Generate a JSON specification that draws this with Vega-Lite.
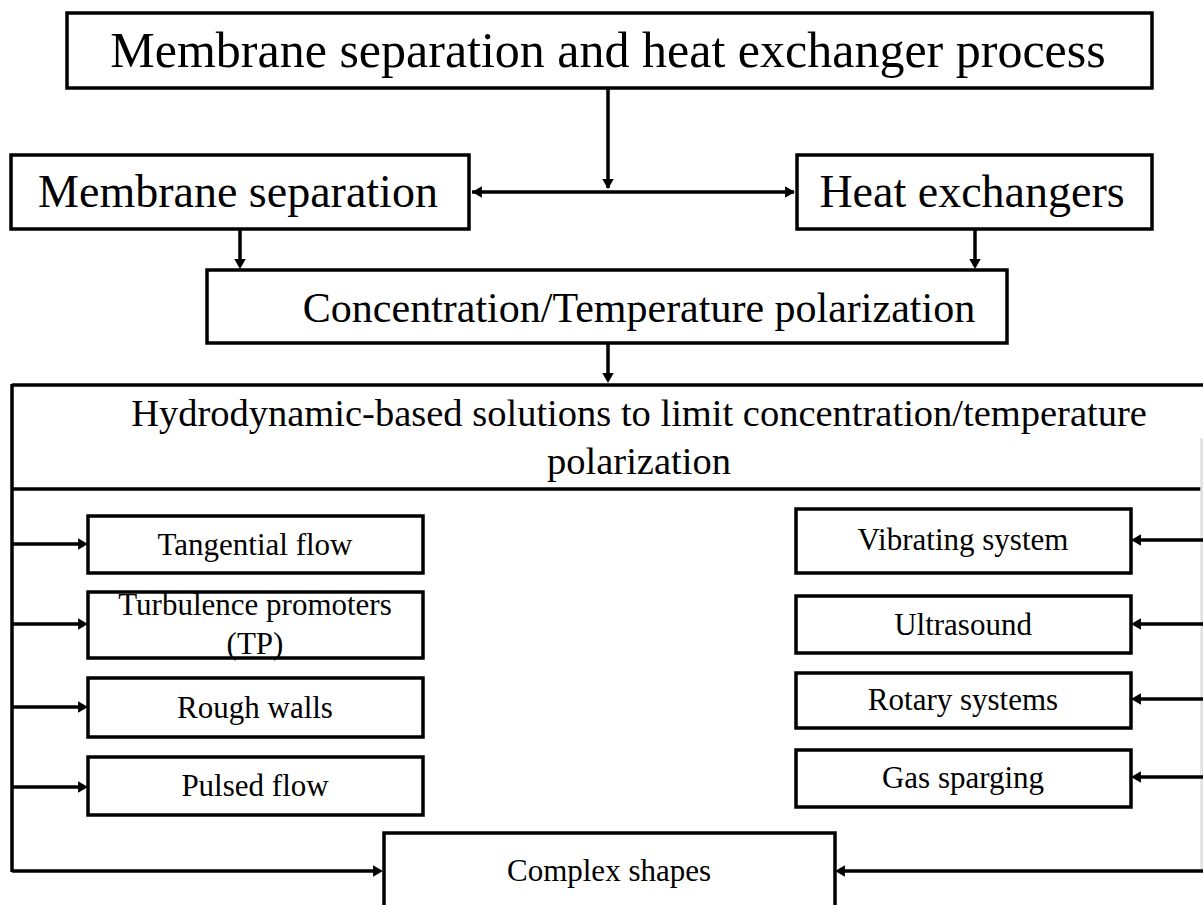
{
  "$schema": "https://vega.github.io/schema/vega-lite/v6.json",
  "width": 1203,
  "height": 905,
  "padding": 0,
  "autosize": {"type": "fit", "contains": "padding"},
  "background": "white",
  "config": {"view": {"stroke": null}},
  "datasets": {
    "boxes": [
      {"name": "process", "x": 67, "y": 13, "x2": 1152, "y2": 88},
      {"name": "membrane", "x": 11, "y": 155, "x2": 469, "y2": 229},
      {"name": "heat", "x": 797, "y": 155, "x2": 1152, "y2": 229},
      {"name": "polarization", "x": 207, "y": 270, "x2": 1007, "y2": 343},
      {"name": "tangential", "x": 88, "y": 516, "x2": 423, "y2": 573},
      {"name": "turbulence", "x": 88, "y": 592, "x2": 423, "y2": 658},
      {"name": "rough", "x": 88, "y": 678, "x2": 423, "y2": 737},
      {"name": "pulsed", "x": 88, "y": 757, "x2": 423, "y2": 815},
      {"name": "vibrating", "x": 796, "y": 509, "x2": 1131, "y2": 573},
      {"name": "ultrasound", "x": 796, "y": 596, "x2": 1131, "y2": 653},
      {"name": "rotary", "x": 796, "y": 673, "x2": 1131, "y2": 728},
      {"name": "gas", "x": 796, "y": 750, "x2": 1131, "y2": 807},
      {"name": "complex", "x": 384, "y": 833, "x2": 835, "y2": 930}
    ],
    "lines": [
      {"kind": "solid", "x": 608, "y": 88, "x2": 608, "y2": 188},
      {"kind": "solid", "x": 472, "y": 192, "x2": 794, "y2": 192},
      {"kind": "solid", "x": 240, "y": 229, "x2": 240, "y2": 266},
      {"kind": "solid", "x": 975, "y": 229, "x2": 975, "y2": 266},
      {"kind": "solid", "x": 608, "y": 343, "x2": 608, "y2": 380},
      {"kind": "solid", "x": 12, "y": 385, "x2": 1203, "y2": 385},
      {"kind": "solid", "x": 12, "y": 489, "x2": 1203, "y2": 489},
      {"kind": "solid", "x": 12, "y": 384, "x2": 12, "y2": 872},
      {"kind": "faint", "x": 1202, "y": 438, "x2": 1202, "y2": 871},
      {"kind": "solid", "x": 12, "y": 544, "x2": 84, "y2": 544},
      {"kind": "solid", "x": 12, "y": 624, "x2": 84, "y2": 624},
      {"kind": "solid", "x": 12, "y": 707, "x2": 84, "y2": 707},
      {"kind": "solid", "x": 12, "y": 787, "x2": 84, "y2": 787},
      {"kind": "solid", "x": 12, "y": 871, "x2": 379, "y2": 871},
      {"kind": "solid", "x": 1203, "y": 871, "x2": 839, "y2": 871},
      {"kind": "solid", "x": 1203, "y": 540, "x2": 1135, "y2": 540},
      {"kind": "solid", "x": 1203, "y": 624, "x2": 1135, "y2": 624},
      {"kind": "solid", "x": 1203, "y": 699, "x2": 1135, "y2": 699},
      {"kind": "solid", "x": 1203, "y": 777, "x2": 1135, "y2": 777}
    ],
    "heads": [
      {"dir": "down", "x": 608, "y": 184},
      {"dir": "left", "x": 477, "y": 192},
      {"dir": "right", "x": 790, "y": 192},
      {"dir": "down", "x": 240, "y": 264},
      {"dir": "down", "x": 975, "y": 264},
      {"dir": "down", "x": 608, "y": 378},
      {"dir": "right", "x": 83, "y": 544},
      {"dir": "right", "x": 83, "y": 624},
      {"dir": "right", "x": 83, "y": 707},
      {"dir": "right", "x": 83, "y": 787},
      {"dir": "right", "x": 378, "y": 871},
      {"dir": "left", "x": 840, "y": 871},
      {"dir": "left", "x": 1136, "y": 540},
      {"dir": "left", "x": 1136, "y": 624},
      {"dir": "left", "x": 1136, "y": 699},
      {"dir": "left", "x": 1136, "y": 777}
    ],
    "labels": [
      {"role": "title", "x": 608, "y": 67, "label": "Membrane separation  and heat exchanger process"},
      {"role": "main", "x": 238, "y": 207, "label": "Membrane separation"},
      {"role": "main", "x": 972, "y": 207, "label": "Heat exchangers"},
      {"role": "conc", "x": 639, "y": 322, "label": "Concentration/Temperature  polarization"},
      {"role": "header", "x": 639, "y": 426, "label": "Hydrodynamic-based  solutions to limit concentration/temperature\npolarization"},
      {"role": "item", "x": 255, "y": 555, "label": "Tangential  flow"},
      {"role": "item", "x": 255, "y": 615, "label": "Turbulence promoters\n(TP)"},
      {"role": "item", "x": 255, "y": 718, "label": "Rough walls"},
      {"role": "item", "x": 255, "y": 796, "label": "Pulsed flow"},
      {"role": "item", "x": 609, "y": 881, "label": "Complex shapes"},
      {"role": "item", "x": 963, "y": 550, "label": "Vibrating  system"},
      {"role": "item", "x": 963, "y": 635, "label": "Ultrasound"},
      {"role": "item", "x": 963, "y": 710, "label": "Rotary systems"},
      {"role": "item", "x": 963, "y": 788, "label": "Gas sparging"}
    ]
  },
  "layer": [
    {
      "data": {"name": "boxes"},
      "mark": {"type": "rect", "fill": "white", "stroke": "black", "strokeWidth": 3.5, "clip": true},
      "encoding": {
        "x": {"field": "x", "type": "quantitative", "scale": {"domain": [0, 1203], "nice": false, "zero": false}, "axis": null},
        "x2": {"field": "x2"},
        "y": {"field": "y", "type": "quantitative", "scale": {"domain": [0, 905], "nice": false, "zero": false, "reverse": true}, "axis": null},
        "y2": {"field": "y2"}
      }
    },
    {
      "data": {"name": "lines"},
      "mark": {"type": "rule", "strokeWidth": 3.5, "clip": true},
      "encoding": {
        "x": {"field": "x", "type": "quantitative", "scale": {"domain": [0, 1203], "nice": false, "zero": false}, "axis": null},
        "x2": {"field": "x2"},
        "y": {"field": "y", "type": "quantitative", "scale": {"domain": [0, 905], "nice": false, "zero": false, "reverse": true}, "axis": null},
        "y2": {"field": "y2"},
        "color": {"condition": {"test": "datum.kind === 'faint'", "value": "#e2e2e2"}, "value": "black"}
      }
    },
    {
      "data": {"name": "heads"},
      "mark": {"type": "point", "filled": true, "opacity": 1, "size": 130, "color": "black"},
      "encoding": {
        "x": {"field": "x", "type": "quantitative", "scale": {"domain": [0, 1203], "nice": false, "zero": false}, "axis": null},
        "y": {"field": "y", "type": "quantitative", "scale": {"domain": [0, 905], "nice": false, "zero": false, "reverse": true}, "axis": null},
        "shape": {"field": "dir", "type": "nominal", "scale": {"domain": ["right", "left", "down"], "range": ["triangle-right", "triangle-left", "triangle-down"]}, "legend": null}
      }
    },
    {
      "data": {"name": "labels"},
      "transform": [{"filter": "datum.role === 'title'"}],
      "mark": {"type": "text", "font": "Liberation Serif", "fontSize": 50, "baseline": "alphabetic", "align": "center", "color": "black"},
      "encoding": {
        "x": {"field": "x", "type": "quantitative", "scale": {"domain": [0, 1203], "nice": false, "zero": false}, "axis": null},
        "y": {"field": "y", "type": "quantitative", "scale": {"domain": [0, 905], "nice": false, "zero": false, "reverse": true}, "axis": null},
        "text": {"field": "label"}
      }
    },
    {
      "data": {"name": "labels"},
      "transform": [{"filter": "datum.role === 'main'"}],
      "mark": {"type": "text", "font": "Liberation Serif", "fontSize": 46, "baseline": "alphabetic", "align": "center", "color": "black"},
      "encoding": {
        "x": {"field": "x", "type": "quantitative", "scale": {"domain": [0, 1203], "nice": false, "zero": false}, "axis": null},
        "y": {"field": "y", "type": "quantitative", "scale": {"domain": [0, 905], "nice": false, "zero": false, "reverse": true}, "axis": null},
        "text": {"field": "label"}
      }
    },
    {
      "data": {"name": "labels"},
      "transform": [{"filter": "datum.role === 'conc'"}],
      "mark": {"type": "text", "font": "Liberation Serif", "fontSize": 42, "baseline": "alphabetic", "align": "center", "color": "black"},
      "encoding": {
        "x": {"field": "x", "type": "quantitative", "scale": {"domain": [0, 1203], "nice": false, "zero": false}, "axis": null},
        "y": {"field": "y", "type": "quantitative", "scale": {"domain": [0, 905], "nice": false, "zero": false, "reverse": true}, "axis": null},
        "text": {"field": "label"}
      }
    },
    {
      "data": {"name": "labels"},
      "transform": [{"filter": "datum.role === 'header'"}],
      "mark": {"type": "text", "font": "Liberation Serif", "fontSize": 38.5, "baseline": "alphabetic", "align": "center", "color": "black", "lineBreak": "\n", "lineHeight": 48},
      "encoding": {
        "x": {"field": "x", "type": "quantitative", "scale": {"domain": [0, 1203], "nice": false, "zero": false}, "axis": null},
        "y": {"field": "y", "type": "quantitative", "scale": {"domain": [0, 905], "nice": false, "zero": false, "reverse": true}, "axis": null},
        "text": {"field": "label"}
      }
    },
    {
      "data": {"name": "labels"},
      "transform": [{"filter": "datum.role === 'item'"}],
      "mark": {"type": "text", "font": "Liberation Serif", "fontSize": 31, "baseline": "alphabetic", "align": "center", "color": "black", "lineBreak": "\n", "lineHeight": 39},
      "encoding": {
        "x": {"field": "x", "type": "quantitative", "scale": {"domain": [0, 1203], "nice": false, "zero": false}, "axis": null},
        "y": {"field": "y", "type": "quantitative", "scale": {"domain": [0, 905], "nice": false, "zero": false, "reverse": true}, "axis": null},
        "text": {"field": "label"}
      }
    }
  ]
}
